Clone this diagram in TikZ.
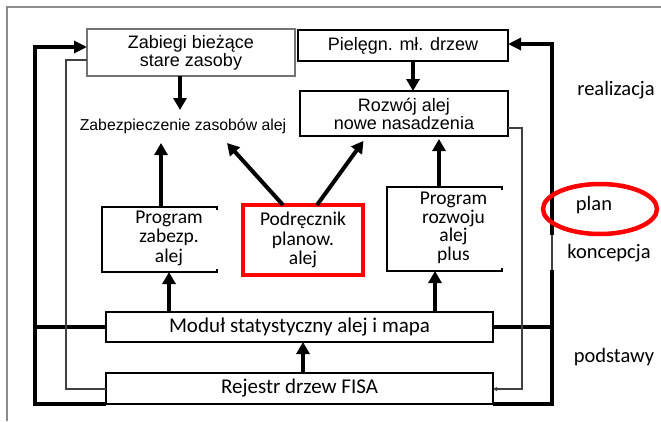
\documentclass[tikz,border=0pt]{standalone}
\usepackage{fontspec}
\setmainfont{Carlito}
\newfontfamily\arial{Liberation Sans}
\usetikzlibrary{arrows.meta,calc,shapes.geometric}
\begin{document}
\begin{tikzpicture}[x=1pt,y=-1pt,
  box/.style={draw, line width=1.2pt, inner sep=0pt, outer sep=0pt, align=center},
  hid/.style={inner sep=0pt, outer sep=0pt},
  lbl/.style={inner sep=0pt, align=center, font=\fontsize{19.5}{19.5}\selectfont},
  atext/.style={font=\arial\fontsize{18}{18}\selectfont},
  arr/.style={line width=4pt, -{Triangle[length=12pt,width=13pt]}},
  thk/.style={line width=3.2pt},
  thn/.style={line width=1.8pt, draw=black!75},
  side/.style={font=\fontsize{20.5}{21}\selectfont, inner sep=0pt}
]
\useasboundingbox (0,0) rectangle (661,421);
% frame
\draw[line width=1.6pt, draw=black!45] (7,421) -- (7,7) -- (661,7);

% nodes
\node[box, draw=black!55, minimum width=208pt, minimum height=47pt, atext] (zab) at (191,52.5) {Zabiegi bieżące\\stare zasoby};
\node[box, minimum width=210pt, minimum height=31pt, atext] (piel) at (403,45.5) {Pielęgn. mł. drzew};
\node[box, minimum width=208pt, minimum height=45pt, atext] (rozw) at (404,113.5) {Rozwój alej\\nowe nasadzenia};
\node[hid, minimum width=210pt, minimum height=33pt, font=\arial\fontsize{15.8}{16}\selectfont] (zabez) at (183,126.5) {Zabezpieczenie zasobów alej};

\node[hid, minimum width=115pt, minimum height=65pt] (prz) at (159.5,239.5) {};
\node[lbl] (przt) at (169,238) {Program\\zabezp.\\alej};
\node[box, draw=red, line width=3.5pt, minimum width=120pt, minimum height=70pt, lbl] (podr) at (303,240) {Podręcznik\\planow.\\alej};
\node[hid, minimum width=115pt, minimum height=84pt] (prr) at (444.5,229) {};
\node[lbl, font=\fontsize{19.5}{18.5}\selectfont] (prrt) at (453.5,228) {Program\\rozwoju\\alej\\plus};

\node[box, minimum width=387pt, minimum height=30pt, font=\fontsize{21}{21}\selectfont] (mod) at (299.5,327) {Moduł statystyczny alej i mapa};
\node[box, minimum width=387pt, minimum height=31pt, font=\fontsize{21}{21}\selectfont] (rej) at (299.5,388.5) {Rejestr drzew FISA};

% open-sided boxes
\draw[line width=1.2pt] ([yshift=-3pt]prz.north east) -- (prz.north east) -- (prz.north west) -- (prz.south west) -- (prz.south east) -- ([yshift=3pt]prz.south east);
\draw[line width=1.2pt] ([yshift=-3pt]prr.north east) -- (prr.north east) -- (prr.north west) -- (prr.south west) -- (prr.south east) -- ([yshift=3pt]prr.south east);

% vertical arrows
\draw[arr] (zab.south -| 180,0) -- (zabez.north -| 180,0);
\draw[arr] (piel.south -| 413,0) -- (rozw.north -| 413,0);
\draw[arr] (prz.north -| 161,0) -- (zabez.south -| 161,0);
\draw[arr] (podr.north -| 283,0) -- (zabez.south -| 227,0);
\draw[arr, shorten >=6pt] (podr.north -| 317,0) -- (rozw.south -| 367,0);
\draw[arr, shorten >=3pt] (prr.north -| 439,0) -- (rozw.south -| 439,0);
\draw[arr] (mod.north -| 169,0) -- (prz.south -| 169,0);
\draw[arr] (mod.north -| 435,0) -- (prr.south -| 435,0);
\draw[arr] (rej.north -| 303,0) -- (mod.south -| 303,0);

% left side lines
\coordinate (lt) at (35,47);
\draw[thk, -{Triangle[length=13pt,width=12pt]}] (rej.south west) -| (lt) -- (zab.west |- lt);
\draw[thk] (mod.west) -- (mod.west -| lt);
\coordinate (lg) at (66,60);
\draw[thn] (rej.west |- 0,389) -| (lg) -- (zab.west |- lg);

% right side lines
\coordinate (rb) at (552,270);
\coordinate (rm) at (552,235);
\coordinate (rt) at (552,44);
\draw[thk] (rej.south east) -| (rb);
\draw[thn] (rb) -- (rm);
\draw[thk, -{Triangle[length=13pt,width=12pt]}] (rm) -- (rt) -- (piel.east |- rt);
\draw[thk] (mod.east) -- (mod.east -| rt);
\coordinate (rg) at (522,128);
\draw[thn, -{Triangle[length=4pt,width=4pt]}] (rozw.east |- rg) -| (522,389) -- (rej.east |- 0,389);

% right labels
\node[side] (real) at (616,90) {realizacja};
\node[draw=red, line width=4.5pt, ellipse, minimum width=114pt, minimum height=50pt, inner sep=0pt] (ell) at (600,209) {};
\node[side] (plan) at (594,205) {plan};
\node[side] (konc) at (609,253) {koncepcja};
\node[side] (podst) at (614,357) {podstawy};
\end{tikzpicture}
\end{document}
